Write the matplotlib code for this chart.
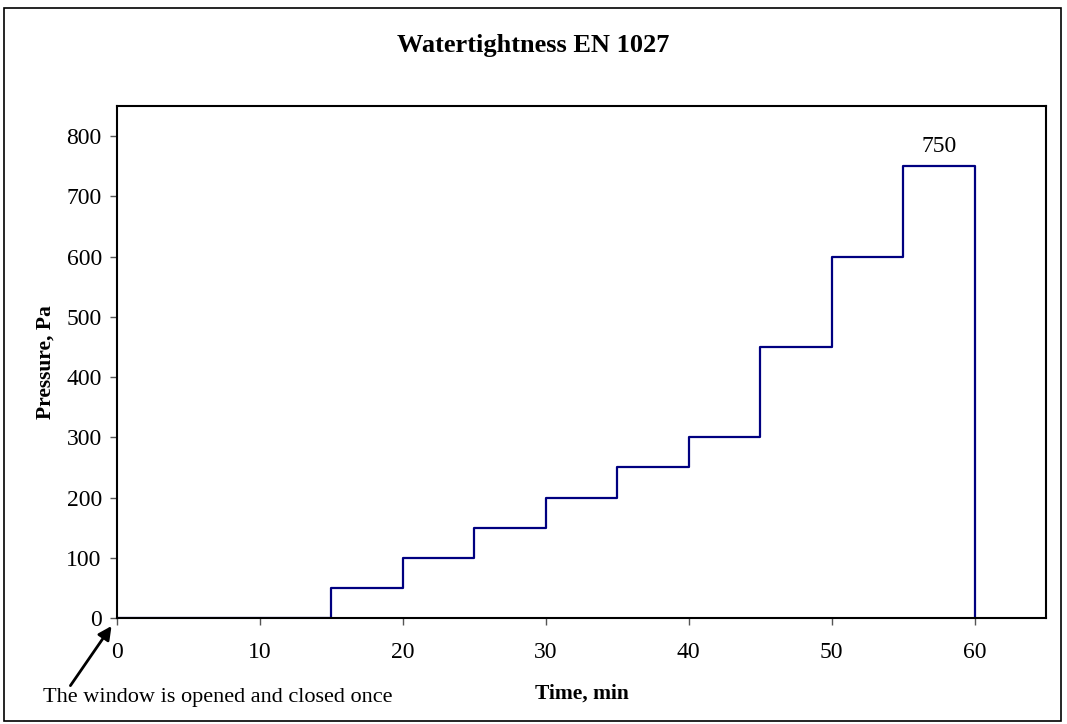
import matplotlib.pyplot as plt
from matplotlib.patches import Rectangle

# data
times = [0, 15, 20, 25, 30, 35, 40, 45, 50, 55, 60]
pressure = [0, 50, 100, 150, 200, 250, 300, 450, 600, 750, 0]
x_ticks = [0, 10, 20, 30, 40, 50, 60]
y_ticks = [0, 100, 200, 300, 400, 500, 600, 700, 800]

plt.rcParams['font.family'] = ['Liberation Serif', 'DejaVu Serif']

fig = plt.figure(figsize=(10.67, 7.24), dpi=100)
ax = fig.add_axes([0.1097, 0.1464, 0.8706, 0.7072])

ax.step(times, pressure, where='post', color='#000080', lw=1.6)

ax.set_xlim(0, 65)
ax.set_ylim(0, 850)
ax.set_xticks(x_ticks)
ax.set_yticks(y_ticks)
ax.tick_params(axis='both', direction='out', length=5, width=1, color='#555555', labelsize=17)
ax.tick_params(axis='x', pad=12)
ax.tick_params(axis='y', pad=6)
for s in ax.spines.values():
    s.set_linewidth(1.5)

ax.set_xlabel('Time, min', fontsize=15.5, fontweight='bold', labelpad=15)
ax.set_ylabel('Pressure, Pa', fontsize=15.5, fontweight='bold', labelpad=8)
fig.text(0.5, 0.937, 'Watertightness EN 1027', ha='center', va='center',
         fontsize=19, fontweight='bold')

# peak label
ax.text((times[-2] + times[-1]) / 2, 782, str(pressure[-2]), ha='center', va='center', fontsize=17)

# annotation text and arrow
fig.text(0.204, 0.037, 'The window is opened and closed once', ha='center', va='center', fontsize=16)
ax.annotate('', xy=(0, 0), xycoords='data',
            xytext=(0.066, 0.053), textcoords='figure fraction',
            arrowprops=dict(arrowstyle='-|>', color='black', lw=2,
                            mutation_scale=20, shrinkA=0, shrinkB=7),
            annotation_clip=False)

# outer border
fig.patches.append(Rectangle((0.004, 0.004), 0.99, 0.985, transform=fig.transFigure,
                             fill=False, edgecolor='black', lw=1.2))

fig.savefig('out.png', dpi=100)
